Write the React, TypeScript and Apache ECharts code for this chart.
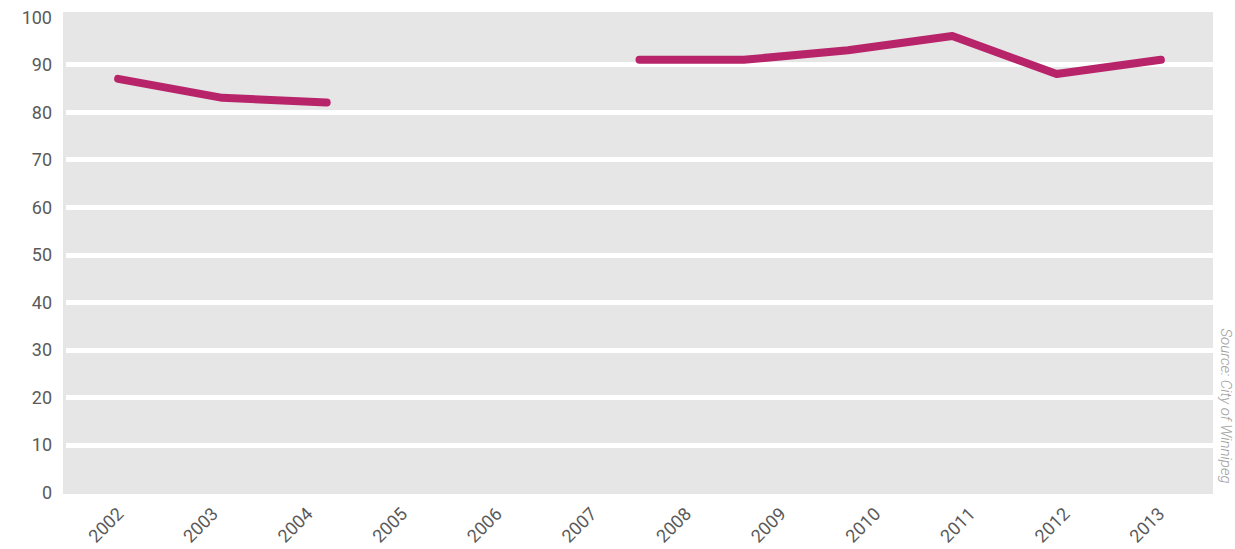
import React, { useEffect, useRef } from "react";
import * as echarts from "echarts";

// Year labels on the x axis
const yearLabels = ["2002", "2003", "2004", "2005", "2006", "2007", "2008", "2009", "2010", "2011", "2012", "2013"];
// Line values, one per plotted slot (the line is drawn on its own evenly spaced slots; nulls are the gap)
const lineValues: (number | null)[] = [87, 83, 82, null, null, 91, 91, 93, 96, 88, 91];
const lineSlots = lineValues.map((_, i) => String(i));
// Y axis
const yMin = 0;
const yMax = 100;
const yStep = 10;
const sourceNote = "Source: City of Winnipeg";

export default function App() {
  const ref = useRef<HTMLDivElement>(null);
  useEffect(() => {
    if (!ref.current) return;
    const chart = echarts.init(ref.current, undefined, { renderer: "svg" });
    const labelColor = "#5a5a5a";
    const font = "Roboto";
    chart.setOption({
      animation: false,
      backgroundColor: "#ffffff",
      graphic: {
        elements: [
          {
            type: "rect",
            z: -10,
            silent: true,
            shape: { x: 63, y: 12, width: 1150, height: 482 },
            style: { fill: "#e6e6e6" },
          },
          {
            type: "text",
            x: 1226,
            y: 406,
            rotation: -Math.PI / 2,
            silent: true,
            style: {
              text: sourceNote,
              fill: "#9d9d9d",
              font: "italic 300 15px Roboto",
              textAlign: "center",
              textVerticalAlign: "middle",
            },
          },
        ],
      },
      grid: [
        { left: 66, right: 22, top: 17, bottom: 56.5, containLabel: false },
        { left: 120, right: 74, top: 17, bottom: 56.5, containLabel: false },
      ],
      xAxis: [
        {
          type: "category",
          gridIndex: 0,
          data: lineSlots,
          boundaryGap: true,
          show: false,
        },
        {
          type: "category",
          gridIndex: 1,
          data: yearLabels,
          boundaryGap: false,
          axisLine: { show: false },
          axisTick: { show: false },
          splitLine: { show: false },
          axisLabel: {
            rotate: 45,
            margin: 18,
            color: labelColor,
            fontFamily: font,
            fontSize: 18,
            interval: 0,
          },
        },
      ],
      yAxis: [
        {
          type: "value",
          gridIndex: 0,
          min: yMin,
          max: yMax,
          interval: yStep,
          axisLine: { show: false },
          axisTick: { show: false },
          axisLabel: {
            margin: 14,
            color: labelColor,
            fontFamily: font,
            fontSize: 18,
            padding: [4, 0, 0, 0],
          },
          splitLine: {
            show: true,
            showMinLine: false,
            showMaxLine: false,
            lineStyle: { color: "#ffffff", width: 5 },
          },
        },
        {
          type: "value",
          gridIndex: 1,
          min: yMin,
          max: yMax,
          show: false,
        },
      ],
      series: [
        {
          type: "line",
          xAxisIndex: 0,
          yAxisIndex: 0,
          data: lineValues.map((v) => (v === null ? "-" : v)),
          connectNulls: false,
          showSymbol: false,
          symbol: "none",
          lineStyle: { color: "#b8246a", width: 8, cap: "round", join: "round" },
          itemStyle: { color: "#b8246a" },
          z: 5,
        },
      ],
    });
    return () => chart.dispose();
  }, []);
  return (
    <div
      ref={ref}
      style={{ position: "fixed", left: 0, top: 0, width: 1235, height: 549 }}
    />
  );
}
